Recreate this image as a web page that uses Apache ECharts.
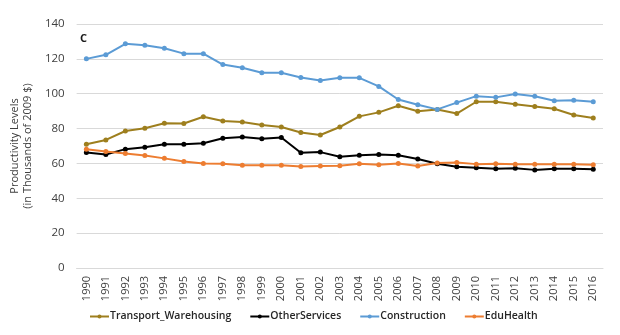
<!DOCTYPE html>
<html>
<head>
<meta charset="utf-8">
<script src="https://cdn.jsdelivr.net/npm/echarts@6/dist/echarts.min.js"></script>
<style>
  html, body { margin: 0; padding: 0; background: #fff; }
  #chart { width: 620px; height: 335px; }
</style>
</head>
<body>
<div id="chart"></div>
<script>
// Labour productivity by sector, thousands of 2009 dollars
const years = ['1990','1991','1992','1993','1994','1995','1996','1997','1998','1999',
  '2000','2001','2002','2003','2004','2005','2006','2007','2008','2009',
  '2010','2011','2012','2013','2014','2015','2016'];

const transportWarehousing = [71.0, 73.5, 78.6, 80.2, 83.0, 82.9, 86.8, 84.3, 83.8, 82.1,
  80.9, 77.7, 76.3, 80.9, 87.0, 89.3, 93.1, 89.9, 90.9, 88.6,
  95.4, 95.4, 93.9, 92.7, 91.4, 87.8, 86.1];

const otherServices = [66.3, 65.1, 68.2, 69.3, 71.0, 71.0, 71.6, 74.5, 75.2, 74.1,
  74.9, 66.1, 66.5, 63.8, 64.7, 65.1, 64.7, 62.5, 59.8, 58.1,
  57.5, 56.9, 57.3, 56.3, 56.9, 56.9, 56.6];

const construction = [120.0, 122.3, 128.6, 127.8, 126.1, 123.0, 123.0, 116.7, 114.9, 112.0,
  112.0, 109.3, 107.6, 109.1, 109.1, 104.2, 96.7, 93.7, 91.0, 94.9,
  98.6, 97.9, 99.8, 98.6, 96.0, 96.2, 95.4];

const eduHealth = [68.2, 66.8, 65.7, 64.6, 62.9, 61.1, 60.0, 59.8, 58.9, 58.9,
  59.0, 58.3, 58.5, 58.6, 59.8, 59.2, 60.0, 58.5, 60.2, 60.6,
  59.6, 59.8, 59.6, 59.6, 59.6, 59.6, 59.2];

const yTicks = { min: 0, max: 140, interval: 20 };

const seriesDefs = [
  { name: 'Transport_Warehousing', data: transportWarehousing, color: '#9E7F1E' },
  { name: 'OtherServices', data: otherServices, color: '#000000' },
  { name: 'Construction', data: construction, color: '#5B9BD5' },
  { name: 'EduHealth', data: eduHealth, color: '#ED7D31' }
];

const FONT = '"Open Sans", "DejaVu Sans", sans-serif';
const chart = echarts.init(document.getElementById('chart'), null, { renderer: 'canvas' });

chart.setOption({
  animation: false,
  backgroundColor: '#ffffff',
  textStyle: { fontFamily: FONT },
  grid: { left: 70, right: 17, top: 24, bottom: 67, containLabel: false },
  title: {
    text: 'C', left: 75, top: 28,
    textStyle: { fontSize: 11, fontWeight: 'bold', color: '#1a1a1a', fontFamily: FONT }
  },
  legend: {
    bottom: 8, left: 84, itemGap: 18, itemWidth: 19, itemHeight: 5,
    textStyle: { fontSize: 10.5, fontWeight: 600, color: '#262626', fontFamily: FONT, padding: [0, 0, 0, -4] },
    data: seriesDefs.map(s => s.name)
  },
  xAxis: {
    type: 'category',
    data: years,
    boundaryGap: true,
    axisLine: { show: true, lineStyle: { color: '#D9D9D9', width: 1 } },
    axisTick: { show: false },
    axisLabel: { rotate: 90, interval: 0, fontSize: 11, color: '#404040', margin: 8, fontFamily: FONT }
  },
  yAxis: {
    type: 'value',
    min: yTicks.min, max: yTicks.max, interval: yTicks.interval,
    name: 'Productivity Levels\n(in Thousands of 2009 $)',
    nameLocation: 'middle', nameGap: 40, nameRotate: 90,
    nameTextStyle: { fontSize: 11, color: '#404040', lineHeight: 13, fontFamily: FONT },
    axisLine: { show: false },
    axisTick: { show: false },
    axisLabel: { fontSize: 11.5, color: '#404040', margin: 12, fontFamily: FONT },
    splitLine: { lineStyle: { color: '#D9D9D9', width: 1 } }
  },
  series: seriesDefs.map(s => ({
    name: s.name,
    type: 'line',
    data: s.data,
    symbol: 'circle',
    symbolSize: 5,
    showSymbol: true,
    lineStyle: { color: s.color, width: 2 },
    itemStyle: { color: s.color },
    emphasis: { disabled: true }
  }))
});
</script>
</body>
</html>
